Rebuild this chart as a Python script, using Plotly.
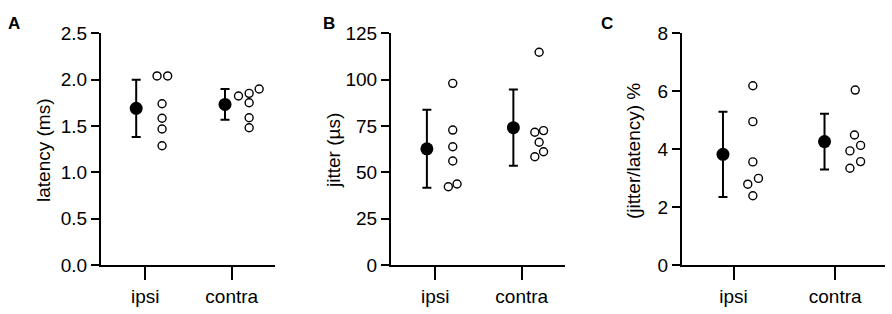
import plotly.graph_objects as go

# ---------------- data ----------------
groups = ["ipsi", "contra"]
group_pos = [0, 1]

# Panel A: latency (ms)
lat_mean = [1.69, 1.733]
lat_sd = [0.308, 0.166]
lat_mean_x = [-0.105, 0.922]
lat_ipsi = [2.04, 2.04, 1.74, 1.583, 1.467, 1.287]
lat_ipsi_x = [0.136, 0.259, 0.194, 0.194, 0.194, 0.194]
lat_contra = [1.823, 1.852, 1.899, 1.751, 1.589, 1.481]
lat_contra_x = [1.078, 1.201, 1.317, 1.201, 1.201, 1.201]

# Panel B: jitter (µs)
jit_mean = [62.7, 74.1]
jit_sd = [21.0, 20.6]
jit_mean_x = [-0.097, 0.903]
jit_ipsi = [98.0, 72.8, 63.8, 56.1, 42.2, 43.7]
jit_ipsi_x = [0.202, 0.202, 0.202, 0.202, 0.151, 0.252]
jit_contra = [114.8, 71.6, 72.5, 66.2, 58.4, 61.1]
jit_contra_x = [1.201, 1.151, 1.252, 1.201, 1.151, 1.252]

# Panel C: (jitter/latency) %
rat_mean = [3.82, 4.26]
rat_sd = [1.47, 0.965]
rat_mean_x = [-0.104, 0.895]
rat_ipsi = [6.19, 4.95, 3.56, 2.79, 2.99, 2.39]
rat_ipsi_x = [0.19, 0.19, 0.19, 0.14, 0.245, 0.19]
rat_contra = [6.04, 4.49, 3.94, 4.13, 3.57, 3.34]
rat_contra_x = [1.197, 1.19, 1.145, 1.25, 1.25, 1.145]

y_titles = ["latency (ms)", "jitter (µs)", "(jitter/latency) %"]
panel_letters = ["A", "B", "C"]
y_tickvals = [[0, 0.5, 1.0, 1.5, 2.0, 2.5], [0, 25, 50, 75, 100, 125], [0, 2, 4, 6, 8]]
y_ranges = [[0, 2.5], [0, 125], [0, 8]]
y_formats = [".1f", "d", "d"]

# ---------------- layout geometry ----------------
W, H = 892, 314
FONT = "Arial, Liberation Sans, sans-serif"
x_domains_px = [(101, 275), (391, 565), (682, 885)]
x_ranges = [[-0.512, 1.5], [-0.512, 1.5], [-0.507, 1.49]]
y_bottom_px, y_top_px = 265, 33.3
title_x_px = [43, 333, 633]
letter_x_px = [6, 321, 599]

panels = [
    (lat_mean, lat_sd, lat_mean_x, lat_ipsi, lat_ipsi_x, lat_contra, lat_contra_x),
    (jit_mean, jit_sd, jit_mean_x, jit_ipsi, jit_ipsi_x, jit_contra, jit_contra_x),
    (rat_mean, rat_sd, rat_mean_x, rat_ipsi, rat_ipsi_x, rat_contra, rat_contra_x),
]

fig = go.Figure()
annotations = []
layout_axes = {}
for i, (m, sd, mx, pi, pix, pc, pcx) in enumerate(panels):
    xa = "x" if i == 0 else f"x{i+1}"
    ya = "y" if i == 0 else f"y{i+1}"
    # individual points
    fig.add_trace(go.Scatter(
        x=pix + pcx, y=pi + pc, mode="markers", xaxis=xa, yaxis=ya,
        marker=dict(symbol="circle", size=8, color="white",
                    line=dict(color="black", width=1.4)),
        showlegend=False, hoverinfo="y", cliponaxis=False))
    # mean +/- SD
    fig.add_trace(go.Scatter(
        x=mx, y=m, mode="markers", xaxis=xa, yaxis=ya,
        marker=dict(symbol="circle", size=13, color="black"),
        error_y=dict(type="data", array=sd, symmetric=True,
                     color="black", thickness=2, width=4.5),
        showlegend=False, hoverinfo="y", cliponaxis=False))

    d0, d1 = x_domains_px[i]
    layout_axes["xaxis" if i == 0 else f"xaxis{i+1}"] = dict(
        domain=[d0 / W, d1 / W], range=x_ranges[i], anchor=ya,
        tickmode="array", tickvals=group_pos, ticktext=groups,
        ticks="outside", ticklen=13, tickwidth=2, tickcolor="black",
        showline=True, linewidth=2, linecolor="black",
        showgrid=False, zeroline=False, automargin=False,
        tickfont=dict(family=FONT, size=19, color="black"),
        fixedrange=True)
    layout_axes["yaxis" if i == 0 else f"yaxis{i+1}"] = dict(
        domain=[(H - y_bottom_px) / H, (H - y_top_px) / H],
        range=y_ranges[i], anchor=xa,
        tickmode="array", tickvals=y_tickvals[i], tickformat=y_formats[i],
        ticks="outside", ticklen=8, tickwidth=2, tickcolor="black",
        showline=True, linewidth=2, linecolor="black",
        showgrid=False, zeroline=False, automargin=False,
        tickfont=dict(family=FONT, size=19, color="black"),
        fixedrange=True)
    annotations.append(dict(
        text=y_titles[i], textangle=-90, xref="paper", yref="paper",
        x=title_x_px[i] / W, y=(H - 151) / H, xanchor="center", yanchor="middle",
        showarrow=False, font=dict(family=FONT, size=19, color="black")))
    annotations.append(dict(
        text=f"<b>{panel_letters[i]}</b>", xref="paper", yref="paper",
        x=letter_x_px[i] / W, y=(H - 12) / H, xanchor="left", yanchor="top",
        showarrow=False, font=dict(family=FONT, size=17, color="black")))

fig.update_layout(
    template="none",
    width=W, height=H, margin=dict(l=0, r=0, t=0, b=0, pad=0),
    paper_bgcolor="white", plot_bgcolor="white",
    annotations=annotations, **layout_axes)

fig.write_html("out.html",
               config={"displayModeBar": False, "staticPlot": True},
               post_script="document.body.style.margin='0';document.body.style.overflow='hidden';")
